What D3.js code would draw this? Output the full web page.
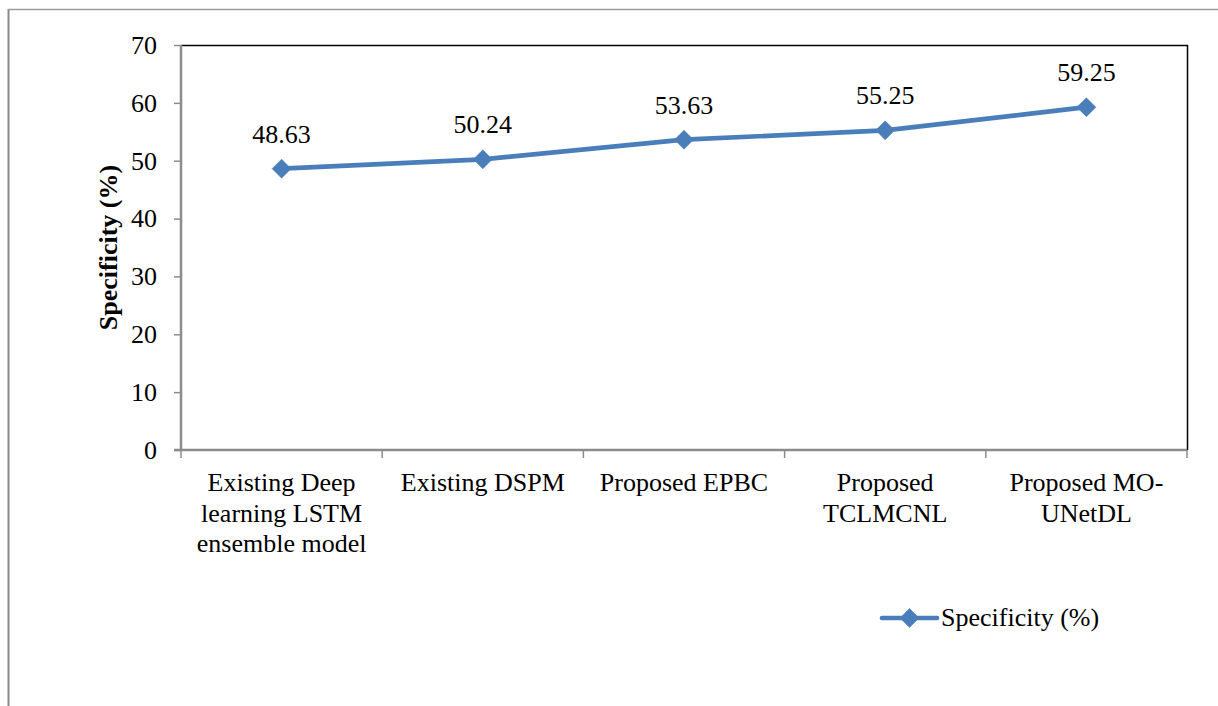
<!DOCTYPE html>
<html>
<head>
<meta charset="utf-8">
<script src="https://cdn.jsdelivr.net/npm/d3@7"></script>
<style>
  html, body { margin: 0; padding: 0; background: #fff; }
  svg { display: block; }
</style>
</head>
<body>
<svg id="chart" width="1218" height="706"></svg>
<script>
// Specificity of each model
const categories = [
  ["Existing Deep", "learning LSTM", "ensemble model"],
  ["Existing DSPM"],
  ["Proposed EPBC"],
  ["Proposed", "TCLMCNL"],
  ["Proposed MO-", "UNetDL"]
];
const specificity = [48.63, 50.24, 53.63, 55.25, 59.25];
const yTicks = [0, 10, 20, 30, 40, 50, 60, 70];
const seriesName = "Specificity (%)";

const W = 1218, H = 706;
const plot = { left: 181, right: 1187, top: 45, bottom: 450 };
const blue = "#4A7EBB";
const FONT = "'Liberation Serif', 'Times New Roman', Times, serif";
const FS = "26px";

const svg = d3.select("#chart");

// outer frame (left and top edges)
svg.append("line").attr("x1", 8.5).attr("x2", 8.5).attr("y1", 9).attr("y2", H)
  .attr("stroke", "#8a8a8a").attr("stroke-width", 2);
svg.append("line").attr("x1", 8).attr("x2", W).attr("y1", 9.5).attr("y2", 9.5)
  .attr("stroke", "#9a9a9a").attr("stroke-width", 1.5);

const x = d3.scaleBand().domain(d3.range(categories.length))
  .range([plot.left, plot.right]).paddingInner(0).paddingOuter(0);
const y = d3.scaleLinear().domain([0, 70]).range([plot.bottom, plot.top]);

// plot area border: top and right
svg.append("path")
  .attr("d", `M${plot.left},${plot.top + 0.5}H${plot.right + 0.5}V${plot.bottom}`)
  .attr("fill", "none").attr("stroke", "#000").attr("stroke-width", 1.5);

// y axis
const yAxis = svg.append("g").attr("transform", `translate(${plot.left},0)`)
  .call(d3.axisLeft(y).tickValues(yTicks).tickSize(7).tickPadding(17));
yAxis.attr("font-family", null).attr("font-size", null);
yAxis.select(".domain").attr("stroke", "#8c8c8c").attr("stroke-width", 2.5)
  .attr("d", `M0,${plot.top}V${plot.bottom}`);
yAxis.selectAll(".tick line").attr("stroke", "#8c8c8c").attr("stroke-width", 1.5);
yAxis.selectAll(".tick text").style("font-size", FS).style("font-family", FONT)
  .attr("fill", "#000");

// x axis with ticks at category boundaries
const xAxisG = svg.append("g");
xAxisG.append("line").attr("x1", plot.left - 7).attr("x2", plot.right)
  .attr("y1", plot.bottom).attr("y2", plot.bottom)
  .attr("stroke", "#8c8c8c").attr("stroke-width", 2.5);
const bounds = d3.range(categories.length + 1).map(i =>
  i < categories.length ? x(i) : x(i - 1) + x.bandwidth());
xAxisG.selectAll("line.tick").data(bounds).join("line").attr("class", "tick")
  .attr("x1", d => d).attr("x2", d => d)
  .attr("y1", plot.bottom).attr("y2", plot.bottom + 8)
  .attr("stroke", "#8c8c8c").attr("stroke-width", 1.5);

// category labels
const catG = svg.append("g");
categories.forEach((lines, i) => {
  const t = catG.append("text")
    .attr("x", x(i) + x.bandwidth() / 2)
    .attr("y", 491)
    .attr("text-anchor", "middle")
    .style("font-family", FONT).style("font-size", FS).attr("fill", "#000");
  lines.forEach((ln, j) => {
    t.append("tspan").attr("x", x(i) + x.bandwidth() / 2)
      .attr("dy", j === 0 ? 0 : 30.7).text(ln);
  });
});

// y axis title
svg.append("text")
  .attr("transform", `translate(117,${(plot.top + plot.bottom) / 2}) rotate(-90)`)
  .attr("text-anchor", "middle")
  .style("font-family", FONT).style("font-size", FS).style("font-weight", "bold")
  .text(seriesName);

// series line
const cx = i => x(i) + x.bandwidth() / 2;
const line = d3.line().x((d, i) => cx(i)).y(d => y(d));
svg.append("path").datum(specificity)
  .attr("d", line).attr("fill", "none")
  .attr("stroke", blue).attr("stroke-width", 4.7).attr("stroke-linejoin", "round");

// diamond markers
const diamond = d3.symbol().type(d3.symbolSquare).size(180);
svg.append("g").selectAll("path").data(specificity).join("path")
  .attr("d", diamond)
  .attr("transform", (d, i) => `translate(${cx(i)},${y(d)}) rotate(45)`)
  .attr("fill", blue).attr("stroke", blue).attr("stroke-width", 0.5);

// value labels
svg.append("g").selectAll("text").data(specificity).join("text")
  .attr("x", (d, i) => cx(i)).attr("y", d => y(d) - 26)
  .attr("text-anchor", "middle")
  .style("font-family", FONT).style("font-size", FS)
  .text(d => d.toFixed(2));

// legend
const lg = svg.append("g").attr("transform", "translate(882,618)");
lg.append("line").attr("x1", 0).attr("x2", 55).attr("y1", 0).attr("y2", 0)
  .attr("stroke", blue).attr("stroke-width", 4.7).attr("stroke-linecap", "round");
lg.append("path").attr("d", diamond).attr("transform", "translate(27.5,0) rotate(45)")
  .attr("fill", blue).attr("stroke", blue).attr("stroke-width", 0.5);
lg.append("text").attr("x", 59).attr("y", 8)
  .style("font-family", FONT).style("font-size", FS)
  .text(seriesName);
</script>
</body>
</html>
